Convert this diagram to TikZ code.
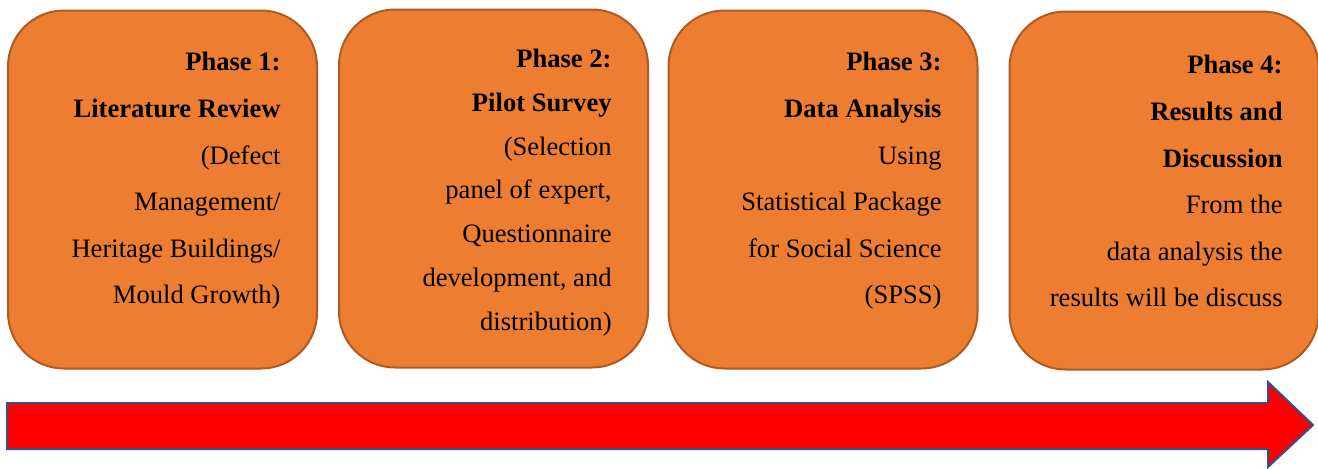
\documentclass[tikz,border=0pt]{standalone}
\usepackage{fontspec}
\setmainfont{Liberation Serif}
\definecolor{phasefill}{HTML}{ED7D31}
\definecolor{phaseline}{HTML}{AE5A21}
\definecolor{arrowline}{HTML}{2F528F}
\begin{document}
\begin{tikzpicture}[x=0.5pt,y=-0.5pt,
  phasebox/.style={draw=phaseline,fill=phasefill,line width=1pt,rounded corners=28pt,minimum width=154.5pt,minimum height=179pt,inner sep=0pt},
  phasetext/.style={anchor=north east,align=right,inner sep=0pt,font=\fontsize{13.3}{23.3}\selectfont},
  tighttext/.style={phasetext,font=\fontsize{13.3}{21.85}\selectfont}]
\useasboundingbox (0,0) rectangle (1318,468);
\node[phasebox] (p1) at (162.5,189.5) {};
\node[phasebox] (p2) at (493.5,188.5) {};
\node[phasebox] (p3) at (823,189.5) {};
\node[phasebox] (p4) at (1164,190.5) {};
\node[phasetext] (t1) at (281,52) {\textbf{Phase 1:}\\ \textbf{Literature Review}\\ (Defect\\ Management/\\ Heritage Buildings/\\ Mould Growth)};
\node[tighttext] (t2) at (612,49) {\textbf{Phase 2:}\\ \textbf{Pilot Survey}\\ (Selection\\ panel of expert,\\ Questionnaire\\ development, and\\ distribution)};
\node[phasetext] (t3) at (942,52) {\textbf{Phase 3:}\\ \textbf{Data Analysis}\\ Using\\ Statistical Package\\ for Social Science\\ (SPSS)};
\node[phasetext] (t4) at (1283,55) {\textbf{Phase 4:}\\ \textbf{Results and}\\ \textbf{Discussion}\\ From the\\ data analysis the\\ results will be discuss};
\draw[draw=arrowline,fill=red,line width=1pt] (7,403) -- (1268,403) -- (1268,382) -- (1313,425) -- (1268,467) -- (1268,449) -- (7,449) -- cycle;
\end{tikzpicture}
\end{document}
